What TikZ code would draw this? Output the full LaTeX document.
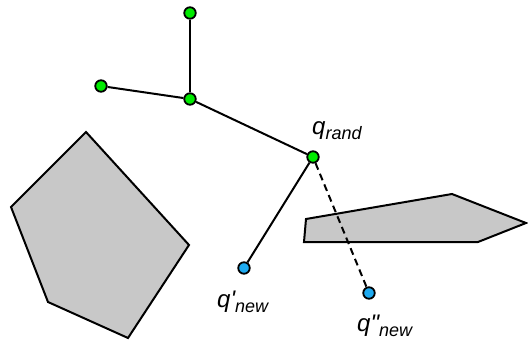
\documentclass[tikz,border=0pt]{standalone}
\usepackage{fontspec}
\setmainfont{Liberation Sans}
\newcommand{\mysub}[1]{\raisebox{-5pt}{\fontsize{18}{19}\selectfont\itshape #1}}
\begin{document}
\begin{tikzpicture}[x=1pt,y=-1pt,
  vert/.style={circle,draw=black,line width=1.8pt,inner sep=0pt,minimum size=11.5pt},
  gnode/.style={vert,fill={rgb,255:red,0;green,235;blue,0}},
  bnode/.style={vert,fill={rgb,255:red,30;green,170;blue,240}},
  edge/.style={line width=2pt},
  obst/.style={draw=black,line width=2pt,fill={rgb,255:red,200;green,200;blue,200},line join=miter},
  lbl/.style={font=\fontsize{24}{26}\selectfont\itshape,inner sep=0pt}]
\useasboundingbox (0,0) rectangle (528,343);
\draw[obst] (86,132) -- (11,207) -- (48,302) -- (128,338) -- (189,245) -- cycle;
\draw[obst] (306,219) -- (452,194) -- (526,223) -- (478,242) -- (304,242) -- cycle;
\node[gnode] (top) at (190,13) {};
\node[gnode] (left) at (101,86) {};
\node[gnode] (mid) at (190,99) {};
\node[gnode] (rand) at (313,157) {};
\node[bnode] (new1) at (244,268) {};
\node[bnode] (new2) at (369,293) {};
\draw[edge] (top) -- (mid);
\draw[edge] (left) -- (mid);
\draw[edge] (mid) -- (rand);
\draw[edge] (rand) -- (new1);
\draw[edge,dash pattern=on 7pt off 4.5pt] (rand) -- (new2);
\node[lbl,anchor=base west] (lr) at (312,134) {q\mysub{rand}};
\node[lbl,anchor=base west] (l1) at (217,307) {q\textquotesingle\mysub{new}};
\node[lbl,anchor=base west] (l2) at (357,331) {q\textquotedbl\mysub{new}};
\end{tikzpicture}
\end{document}
